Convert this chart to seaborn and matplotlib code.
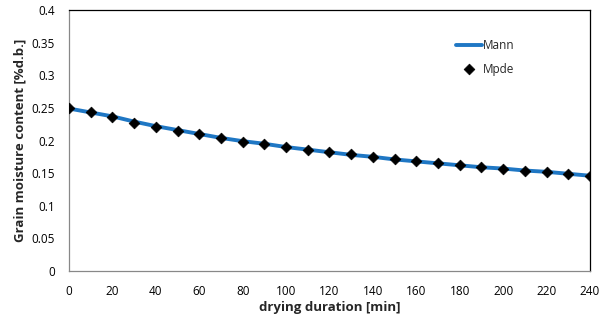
import matplotlib
matplotlib.use("Agg")
import matplotlib.pyplot as plt
import seaborn as sns
import pandas as pd

# Data
duration = [0, 10, 20, 30, 40, 50, 60, 70, 80, 90, 100, 110, 120,
            130, 140, 150, 160, 170, 180, 190, 200, 210, 220, 230, 240]
mpde = [0.250, 0.244, 0.236, 0.227, 0.221, 0.215, 0.210, 0.204, 0.198,
        0.195, 0.190, 0.185, 0.182, 0.179, 0.175, 0.171, 0.169, 0.165,
        0.162, 0.159, 0.156, 0.154, 0.152, 0.148, 0.145]
mann = [0.249, 0.243, 0.237, 0.229, 0.222, 0.216, 0.210, 0.204, 0.199,
        0.195, 0.190, 0.186, 0.182, 0.178, 0.175, 0.171, 0.168, 0.165,
        0.162, 0.159, 0.157, 0.154, 0.152, 0.149, 0.146]
xticks = list(range(0, 241, 20))
yticks = [0, 0.05, 0.1, 0.15, 0.2, 0.25, 0.3, 0.35, 0.4]
ytick_labels = ["0", "0.05", "0.1", "0.15", "0.2", "0.25", "0.3", "0.35", "0.4"]

df = pd.DataFrame({"duration": duration, "Mann": mann, "Mpde": mpde})

sns.set_style("white")
plt.rcParams["font.family"] = ["Open Sans", "DejaVu Sans"]

fig = plt.figure(figsize=(6.11, 3.26), dpi=100)
ax = fig.add_axes([0.1129, 0.1687, 0.8527, 0.8006])

sns.lineplot(data=df, x="duration", y="Mann", ax=ax, color="#1f77c4",
             linewidth=2.8, label="Mann")
sns.scatterplot(data=df, x="duration", y="Mpde", ax=ax, color="black",
                marker="D", s=30, edgecolor="black", linewidth=0.5,
                label="Mpde", zorder=3)

ax.set_xlim(0, 240)
ax.set_ylim(0, 0.4)
ax.set_xticks(xticks)
ax.set_xticklabels([str(t) for t in xticks])
ax.set_yticks(yticks)
ax.set_yticklabels(ytick_labels)
ax.tick_params(axis="both", labelsize=8.5, colors="#888888", length=4,
               width=0.8, direction="out", labelcolor="black")
ax.tick_params(axis="x", pad=6)
ax.tick_params(axis="y", pad=6)
for s in ["left", "bottom"]:
    ax.spines[s].set_color("#888888")
    ax.spines[s].set_linewidth(0.9)
for s in ["top", "right"]:
    ax.spines[s].set_color("black")
    ax.spines[s].set_linewidth(0.9)

ax.set_xlabel("drying duration [min]", fontsize=9.5, fontweight="bold", labelpad=2)
ax.set_ylabel("Grain moisture content [%d.b.]", fontsize=9.5, fontweight="bold", labelpad=4)

leg = ax.legend(loc="upper left", bbox_to_anchor=(0.722, 0.93), frameon=False,
                fontsize=8.5, handlelength=2.2, handletextpad=0.1,
                labelspacing=0.9)

fig.savefig("out.png", dpi=100)
